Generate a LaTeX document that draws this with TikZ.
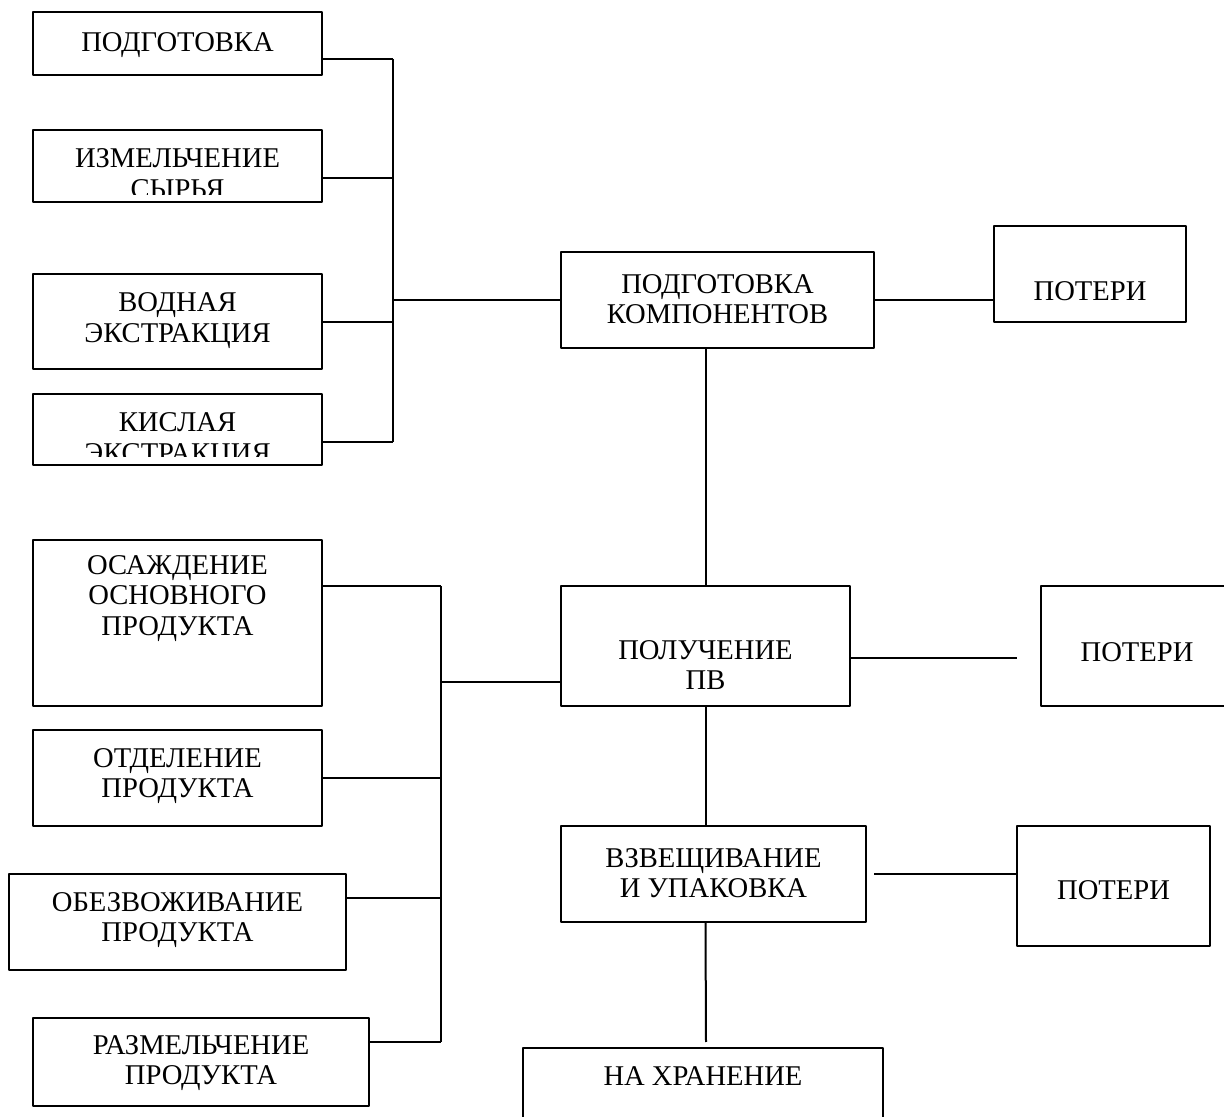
\documentclass[tikz,border=0pt]{standalone}
\usepackage{fontspec}
\setmainfont{Liberation Serif}

\begin{document}
\begin{tikzpicture}[line join=bevel,
  box/.style={draw,line width=1.1bp,inner sep=0pt},
  txt/.style={align=center,inner sep=0pt,text depth=0pt,font=\fontsize{14.3bp}{15.3bp}\selectfont},
  lnk/.style={line width=1bp}]
\useasboundingbox (0bp,0bp) rectangle (612bp,558.5bp);
%%
\node (node_podg) at (88.75bp,536.75bp) [box,minimum width=144.5bp,minimum height=31.5bp] {};
  \node (node_izm) at (88.75bp,475.5bp) [box,minimum width=144.5bp,minimum height=36bp] {};
  \node (node_vodn) at (88.75bp,397.75bp) [box,minimum width=144.5bp,minimum height=47.5bp] {};
  \node (node_kisl) at (88.75bp,343.75bp) [box,minimum width=144.5bp,minimum height=35.5bp] {};
  \node (node_komp) at (358.75bp,408.5bp) [box,minimum width=156.5bp,minimum height=48bp] {};
  \node (node_pot1) at (545bp,421.5bp) [box,minimum width=96bp,minimum height=48bp] {};
  \node (node_pv) at (352.75bp,235.5bp) [box,minimum width=144.5bp,minimum height=60bp] {};
  \node (node_pot2) at (568.5bp,235.5bp) [box,minimum width=96bp,minimum height=60bp] {};
  \node (node_vzv) at (356.75bp,121.5bp) [box,minimum width=152.5bp,minimum height=48bp] {};
  \node (node_pot3) at (556.75bp,115.5bp) [box,minimum width=96.5bp,minimum height=60bp] {};
  \node (node_hran) at (351.5bp,6.5bp) [box,minimum width=180bp,minimum height=56bp] {};
  \node (node_osazh) at (88.75bp,247bp) [box,minimum width=144.5bp,minimum height=83bp] {};
  \node (node_otdel) at (88.75bp,169.5bp) [box,minimum width=144.5bp,minimum height=48bp] {};
  \node (node_obezv) at (88.75bp,97.5bp) [box,minimum width=168.5bp,minimum height=48bp] {};
  \node (node_razm) at (100.5bp,27.5bp) [box,minimum width=168bp,minimum height=44bp] {};
%
\node (t_podg) at (88.75bp,537.5bp) [txt] {ПОДГОТОВКА};
  \begin{scope}
    \clip (node_izm.north west) rectangle ([yshift=4.5bp]node_izm.south east);
    \node (t_izm) at (88.75bp,471.75bp) [txt] {ИЗМЕЛЬЧЕНИЕ\\СЫРЬЯ};
  \end{scope}
  \node (t_vodn) at (88.75bp,399.75bp) [txt] {ВОДНАЯ\\ЭКСТРАКЦИЯ};
  \begin{scope}
    \clip (node_kisl.north west) rectangle ([yshift=5bp]node_kisl.south east);
    \node (t_kisl) at (88.75bp,339.75bp) [txt] {КИСЛАЯ\\ЭКСТРАКЦИЯ};
  \end{scope}
  \node (t_komp) at (358.75bp,409bp) [txt] {ПОДГОТОВКА\\КОМПОНЕНТОВ};
  \node (t_pot1) at (545bp,413bp) [txt] {ПОТЕРИ};
  \node (t_pv) at (352.75bp,226bp) [txt] {ПОЛУЧЕНИЕ\\ПВ};
  \node (t_pot2) at (568.5bp,232.5bp) [txt] {ПОТЕРИ};
  \node (t_vzv) at (356.75bp,122bp) [txt] {ВЗВЕЩИВАНИЕ\\И УПАКОВКА};
  \node (t_pot3) at (556.75bp,113.5bp) [txt] {ПОТЕРИ};
  \node (t_hran) at (351.5bp,20.5bp) [txt] {НА ХРАНЕНИЕ};
  \node (t_osazh) at (88.75bp,260.75bp) [txt] {ОСАЖДЕНИЕ\\ОСНОВНОГО\\ПРОДУКТА};
  \node (t_otdel) at (88.75bp,172bp) [txt] {ОТДЕЛЕНИЕ\\ПРОДУКТА};
  \node (t_obezv) at (88.75bp,100bp) [txt] {ОБЕЗВОЖИВАНИЕ\\ПРОДУКТА};
  \node (t_razm) at (100.5bp,28.5bp) [txt] {РАЗМЕЛЬЧЕНИЕ\\ПРОДУКТА};
%
\coordinate (bus_a1) at (196.5bp,529bp);
  \coordinate (bus_a2) at (196.5bp,469.5bp);
  \coordinate (bus_a3) at (196.5bp,397.5bp);
  \coordinate (bus_a4) at (196.5bp,337.5bp);
  \coordinate (bus_ak) at (196.5bp,408.5bp);
  \coordinate (bus_b1) at (220.5bp,265.5bp);
  \coordinate (bus_b2) at (220.5bp,169.5bp);
  \coordinate (bus_b3) at (220.5bp,109.5bp);
  \coordinate (bus_b4) at (220.5bp,37.5bp);
  \coordinate (bus_bp) at (220.5bp,217.5bp);
  \coordinate (pv_end) at (508.5bp,229.5bp);
  \coordinate (hran_end) at (353bp,37.5bp);
%
\draw [lnk] (node_podg.east |- bus_a1) -- (bus_a1);
  \draw [lnk] (node_izm.east |- bus_a2) -- (bus_a2);
  \draw [lnk] (node_vodn.east |- bus_a3) -- (bus_a3);
  \draw [lnk] (node_kisl.east |- bus_a4) -- (bus_a4);
  \draw [lnk] (bus_a1) -- (bus_a4);
  \draw [lnk] (bus_ak) -- (node_komp.west);
  \draw [lnk] (node_komp.east) -- (node_komp.east -| node_pot1.west);
  \draw [lnk] (node_komp.south -| node_pv.north) -- (node_pv.north);
  \draw [lnk] (node_pv.east |- pv_end) -- (pv_end);
  \draw [lnk] (node_pv.south) -- (node_vzv.north -| node_pv.south);
  \draw [lnk] ([xshift=3.5bp]node_vzv.east) -- (node_vzv.east -| node_pot3.west);
  \draw [lnk] (node_vzv.south -| node_pv.south) -- (hran_end);
  \draw [lnk] (node_osazh.east |- bus_b1) -- (bus_b1);
  \draw [lnk] (node_otdel.east |- bus_b2) -- (bus_b2);
  \draw [lnk] (node_obezv.east |- bus_b3) -- (bus_b3);
  \draw [lnk] (node_razm.east |- bus_b4) -- (bus_b4);
  \draw [lnk] (bus_b1) -- (bus_b4);
  \draw [lnk] (bus_bp) -- (node_pv.west |- bus_bp);
%
\end{tikzpicture}
\end{document}
